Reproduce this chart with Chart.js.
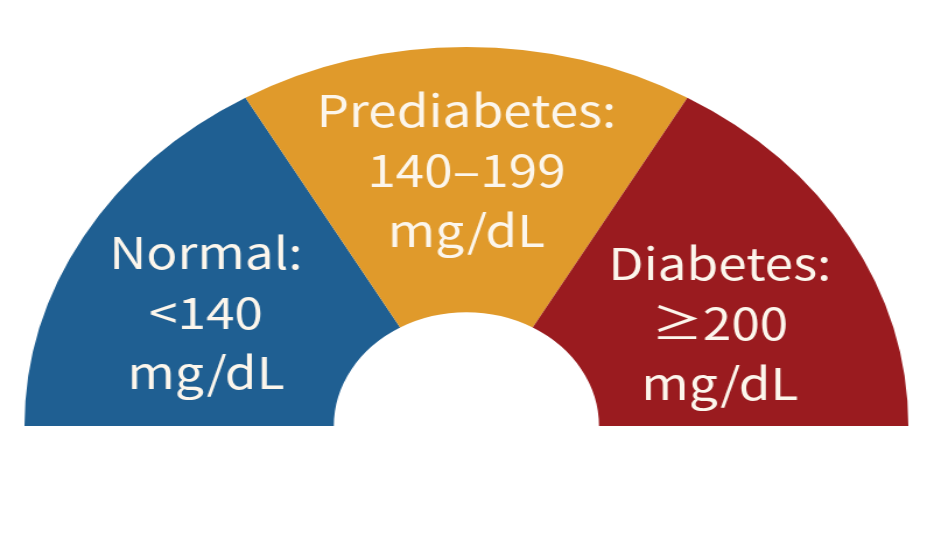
<!DOCTYPE html>
<html>
<head>
<meta charset="utf-8">
<script src="https://cdn.jsdelivr.net/npm/chart.js@4.4.1/dist/chart.umd.min.js"></script>
<style>
  html, body { margin: 0; padding: 0; background: #fff; }
  body { width: 932px; height: 535px; position: relative; overflow: hidden; }
  /* the source picture is stretched sideways, so the gauge is too */
  #wrap { position: absolute; left: 0; top: 47px; width: 800px; height: 379px;
          transform: scaleX(1.166); transform-origin: left top; }
</style>
</head>
<body>
<div id="wrap"><canvas id="gauge"></canvas></div>
<script>
const categories = ['Normal', 'Prediabetes', 'Diabetes'];
const segmentValues = [1, 1, 1];
const labelLines = [
    ['Normal:', '<140', 'mg/dL'],
    ['Prediabetes:', '140–199', 'mg/dL'],
    ['Diabetes:', '≥200', 'mg/dL']
];
const segmentColors = ['#1f5f92', '#e09a2b', '#9a1b1f'];

// writes the three lines in the middle of each segment
const segmentText = {
    id: 'segmentText',
    afterDatasetsDraw(chart) {
        const ctx = chart.ctx;
        const nudge = [[-10, 9], [0, -9], [4, 20]];
        chart.getDatasetMeta(0).data.forEach((arc, i) => {
            const p = arc.getProps(['x', 'y', 'startAngle', 'endAngle', 'innerRadius', 'outerRadius']);
            const mid = (p.startAngle + p.endAngle) / 2;
            const r = (p.innerRadius + p.outerRadius) / 2;
            const cx = p.x + Math.cos(mid) * r + nudge[i][0];
            const cy = p.y + Math.sin(mid) * r + nudge[i][1];
            ctx.save();
            ctx.fillStyle = '#fcf6ec';
            ctx.font = '400 44px "Noto Sans CJK JP", "Noto Sans", sans-serif';
            ctx.textAlign = 'center';
            ctx.textBaseline = 'middle';
            labelLines[i].forEach((line, k) => {
                ctx.fillText(line, cx, cy + (k - 1) * 60);
            });
            ctx.restore();
        });
    }
};

const ctx = document.getElementById('gauge').getContext('2d');
const gauge = new Chart(ctx, {
    type: 'doughnut',
    data: {
        labels: categories,
        datasets: [{
            data: segmentValues,
            backgroundColor: segmentColors,
            borderWidth: 0,
            hoverOffset: 0
        }]
    },
    options: {
        responsive: true,
        maintainAspectRatio: false,
        animation: false,
        rotation: -90,
        circumference: 180,
        cutout: '30%',
        layout: { padding: 0 },
        plugins: {
            legend: { display: false },
            tooltip: { enabled: false }
        }
    },
    plugins: [segmentText]
});
</script>
</body>
</html>
